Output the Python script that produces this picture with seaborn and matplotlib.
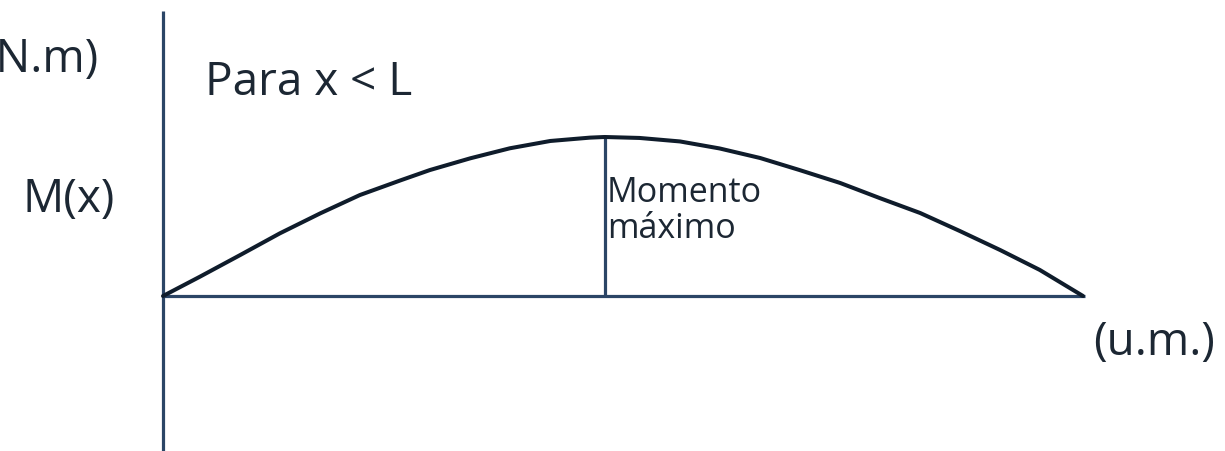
import numpy as np
import pandas as pd
import matplotlib
matplotlib.use("Agg")
import matplotlib.pyplot as plt
import seaborn as sns

# Moment curve (x in u.m., M normalised to the maximum)
x_pos = [0.0, 0.40, 0.84, 1.27, 1.71, 2.14, 2.58, 2.90, 3.34, 3.77, 4.21, 4.64, 4.80,
         5.18, 5.62, 6.05, 6.49, 6.92, 7.36, 7.79, 8.23, 8.66, 9.10, 9.53, 10.0]
moment = [0.0, 0.121, 0.258, 0.394, 0.520, 0.635, 0.727, 0.792, 0.866, 0.929, 0.975, 0.996, 1.0,
          0.994, 0.972, 0.928, 0.868, 0.792, 0.711, 0.616, 0.522, 0.409, 0.289, 0.164, 0.0]
x_max = 4.80
m_max = 1.0
beam_end = 10.02

axis_col = "#2b4566"
curve_col = "#0f1c2b"
text_col = "#1c2733"

sns.set_style("white")
plt.rcParams["font.family"] = ["Open Sans", "DejaVu Sans"]

df = pd.DataFrame({"x": x_pos, "M": moment})

fig = plt.figure(figsize=(12.25, 4.51), dpi=100)
ax = fig.add_axes([0, 0, 1, 1])
# 92 px per u.m., 159 px per unit of M, origin at pixel (163, 296)
ax.set_xlim(-163 / 92, (1225 - 163) / 92)
ax.set_ylim(-155 / 159, 296 / 159)
ax.axis("off")

# vertical axis, baseline and max line
ax.plot([0, 0], [-0.975, 1.79], color=axis_col, lw=2.3, solid_capstyle="butt")
ax.plot([0, beam_end], [0, 0], color=axis_col, lw=2.3, solid_capstyle="butt")
ax.plot([x_max, x_max], [0, m_max], color=axis_col, lw=2.3, solid_capstyle="butt")

sns.lineplot(data=df, x="x", y="M", ax=ax, color=curve_col, lw=2.9, sort=False)

ax.set_xlabel("")
ax.set_ylabel("")

def px(x):
    return (x - 163) / 92

def py(y):
    return (296 - y) / 159

# texts
fs = 33
ax.text(px(98), py(72), "(N.m)", fontsize=fs, color=text_col, ha="right", va="baseline")
ax.text(px(22), py(212), "M(x)", fontsize=fs, color=text_col, ha="left", va="baseline")
ax.text(px(205), py(95), "Para x < L", fontsize=fs, color=text_col, ha="left", va="baseline")
ax.text(px(1093), py(355), "(u.m.)", fontsize=fs, color=text_col, ha="left", va="baseline")
ax.text(px(607), py(202), "Momento", fontsize=24.5, color=text_col, ha="left", va="baseline")
ax.text(px(607), py(238), "máximo", fontsize=24.5, color=text_col, ha="left", va="baseline")

fig.savefig("out.png", dpi=100)
